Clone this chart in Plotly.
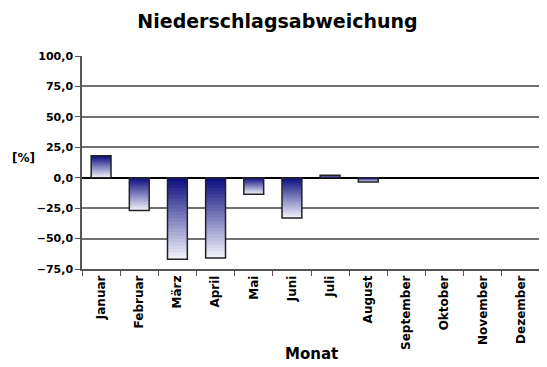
import plotly.graph_objects as go

months = ["Januar", "Februar", "März", "April", "Mai", "Juni", "Juli",
          "August", "September", "Oktober", "November", "Dezember"]
deviation = [18.0, -27.0, -67.0, -66.0, -13.5, -33.0, 2.0, -3.5,
             None, None, None, None]
y_ticks = [-75, -50, -25, 0, 25, 50, 75, 100]

N = 24
dark = (16, 16, 130)
light = (240, 240, 250)

fig = go.Figure()

# gradient: overlaid bars, shrinking toward the zero/top end, increasingly dark
for k in range(N):
    f = 1 - k / N
    t = k / (N - 1)
    c = tuple(int(light[i] + (dark[i] - light[i]) * t) for i in range(3))
    ys, bases = [], []
    for v in deviation:
        if v is None:
            ys.append(None); bases.append(0)
        elif v >= 0:
            ys.append(-v * f); bases.append(v)
        else:
            ys.append(v * f); bases.append(0)
    fig.add_trace(go.Bar(x=months, y=ys, base=bases,
                         marker=dict(color="rgb(%d,%d,%d)" % c, line=dict(width=0)),
                         hoverinfo="skip", showlegend=False))

# outline
fig.add_trace(go.Bar(x=months, y=deviation,
                     marker=dict(color="rgba(0,0,0,0)", line=dict(color="#222", width=1.5)),
                     showlegend=False))

FONT = "DejaVu Sans, Verdana, sans-serif"

fig.update_layout(
    width=539, height=359,
    barmode="overlay", bargap=0.48,
    separators=",.",
    paper_bgcolor="white", plot_bgcolor="white",
    margin=dict(l=74, r=7, t=48, b=98, autoexpand=False),
    font=dict(family=FONT, color="black"),
    title=dict(text="<b>Niederschlagsabweichung</b>", x=0.5, xanchor="center",
               y=0.964, yanchor="middle", automargin=False,
               font=dict(size=19, color="black")),
    xaxis=dict(type="category", tickson="boundaries", ticks="outside", ticklen=5,
               tickcolor="#555", showline=True, linecolor="#555", linewidth=1.5,
               tickangle=-90, tickfont=dict(size=12, weight="bold"),
               automargin=False),
    yaxis=dict(range=[-75, 100], tickvals=y_ticks, tickformat=".1f",
               ticks="outside", ticklen=5, tickcolor="#555",
               showline=True, linecolor="#555", linewidth=1.5,
               showgrid=True, gridcolor="#707070", gridwidth=1.5,
               zeroline=True, zerolinecolor="black", zerolinewidth=1.5,
               automargin=False,
               tickfont=dict(size=11, weight="bold")),
    annotations=[
        dict(text="<b>[%]</b>", xref="x domain", yref="y", x=-0.157, y=16.5,
             xanchor="left", yanchor="middle",
             showarrow=False, font=dict(size=12)),
        dict(text="<b>Monat</b>", xref="x domain", yref="paper", x=0.5, y=-0.40,
             xanchor="center", yanchor="middle",
             showarrow=False, font=dict(size=15)),
    ],
)

fig.write_html("out.html")
